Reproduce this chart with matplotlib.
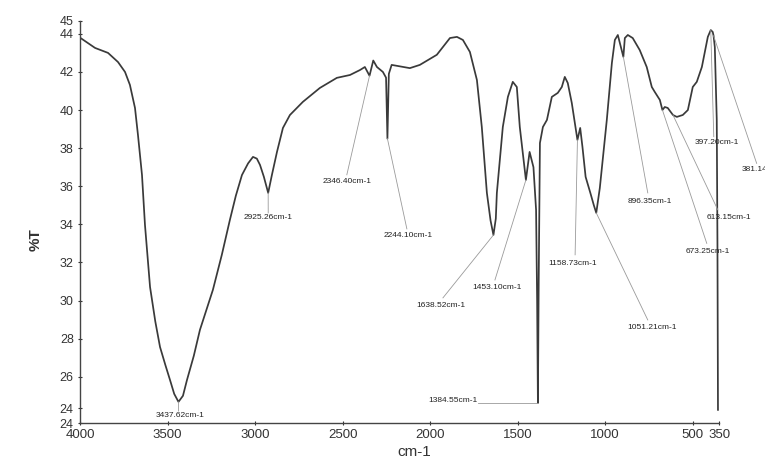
import matplotlib
matplotlib.use("Agg")
import matplotlib.pyplot as plt

# FTIR transmittance spectrum (wavenumber in cm-1, transmittance in %T)
wavenumber = [
    4000, 3914, 3840, 3783, 3743, 3715, 3686, 3669, 3646, 3629, 3600, 3570,
    3543, 3512, 3486, 3462, 3437.62, 3412, 3389, 3350, 3315, 3241, 3190,
    3144, 3110, 3075, 3040, 3012, 2990, 2972, 2950, 2925.26, 2904, 2875,
    2841, 2801, 2727, 2630, 2533, 2458, 2401, 2373, 2346.40, 2325, 2304,
    2270, 2252, 2244.10, 2236, 2220, 2116, 2059, 1962, 1887, 1847, 1813,
    1773, 1733, 1705, 1676, 1655, 1638.52, 1625, 1619, 1585, 1556, 1528,
    1505, 1488, 1453.10, 1432, 1410, 1395, 1389, 1384.55, 1380, 1373, 1356,
    1333, 1305, 1271, 1248, 1231, 1214, 1191, 1158.73, 1143, 1130, 1112,
    1085, 1065, 1051.21, 1031, 991, 962, 945, 928, 896.35, 888, 871, 843,
    803, 763, 734, 717, 688, 673.25, 660, 643, 613.15, 591, 557, 528, 500,
    477, 448, 431, 414, 397.20, 386, 381.14, 374, 363, 359, 356,
]
transmittance = [
    43.8, 43.26, 43.0, 42.52, 42.0, 41.32, 40.11, 38.69, 36.59, 33.97, 30.71,
    28.9, 27.56, 26.6, 25.83, 25.1, 24.68, 25.0, 25.83, 27.1, 28.46, 30.56,
    32.4, 34.23, 35.5, 36.59, 37.2, 37.54, 37.45, 37.12, 36.5, 35.65, 36.59,
    37.8, 39.06, 39.74, 40.43, 41.16, 41.69, 41.84, 42.1, 42.26, 41.8, 42.6,
    42.26, 42.0, 41.7, 38.5, 41.9, 42.37, 42.2, 42.37, 42.9, 43.78, 43.84,
    43.68, 43.05, 41.58, 39.11, 35.65, 34.2, 33.44, 34.3, 35.65, 39.11,
    40.69, 41.48, 41.21, 39.11, 36.33, 37.8, 37.0, 34.76, 30.0, 24.62, 31.0,
    38.27, 39.11, 39.48, 40.69, 40.9, 41.21, 41.74, 41.42, 40.37, 38.43,
    39.06, 38.06, 36.49, 35.65, 35.0, 34.6, 35.9, 39.48, 42.47, 43.68, 43.94,
    42.79, 43.78, 43.94, 43.78, 43.15, 42.26, 41.21, 40.95, 40.53, 40.0,
    40.16, 40.11, 39.74, 39.64, 39.74, 40.0, 41.21, 41.48, 42.26, 43.05,
    43.84, 44.2, 44.1, 43.9, 43.3, 39.5, 33.0, 24.26,
]

# Picked bands: label position and the bend point of its leader line
peak_labels = ["3437.62cm-1", "2925.26cm-1", "2346.40cm-1", "2244.10cm-1",
               "1638.52cm-1", "1453.10cm-1", "1384.55cm-1", "1158.73cm-1",
               "1051.21cm-1", "896.35cm-1", "673.25cm-1", "613.15cm-1",
               "397.20cm-1", "381.14cm-1"]
peak_wn = [3437.62, 2925.26, 2346.40, 2244.10, 1638.52, 1453.10, 1384.55,
           1158.73, 1051.21, 896.35, 673.25, 613.15, 397.20, 381.14]

label_xy = [(3429, 23.94), (2927, 34.34), (2476, 36.23), (2127, 33.44),
            (1939, 29.72), (1619, 30.71), (1728, 24.73), (1185, 31.97),
            (734, 28.56), (745, 35.18), (414, 32.6), (294, 34.34),
            (363, 38.27), (220, 36.86)]
leader_end = [(3437, 24.2), (2925, 34.6), (2476, 36.6), (2133, 33.76),
              (1927, 30.14), (1630, 31.08), (1728, 24.62), (1172, 32.4),
              (757, 28.98), (757, 35.65), (420, 33.0), (357, 34.76),
              (380, 38.6), (135, 37.2)]
label_ha = ["center"] * 6 + ["right"] + ["center"] * 6 + ["left"]

y_ticks = [23.57, 24.35, 26, 28, 30, 32, 34, 36, 38, 40, 42, 44, 44.69]
y_ticklabels = ["24", "24", "26", "28", "30", "32", "34", "36", "38", "40",
                "42", "44", "45"]
x_ticks = [4000, 3500, 3000, 2500, 2000, 1500, 1000, 500, 350]
x_ticklabels = ["4000", "3500", "3000", "2500", "2000", "1500", "1000",
                "500", "350"]

plt.rcParams["font.family"] = ["Liberation Sans", "DejaVu Sans"]

fig = plt.figure(figsize=(7.65, 4.59), dpi=100)
ax = fig.add_axes([0.1046, 0.0784, 0.8353, 0.8765])

ax.plot(wavenumber, transmittance, color="#3a3a3a", lw=1.25,
        solid_joinstyle="round")

ax.set_xlim(4000, 350)
ax.set_ylim(23.57, 44.69)

# leader lines and band labels
for wn, lab, (tx, ty), (lx, ly), ha in zip(peak_wn, peak_labels, label_xy,
                                             leader_end, label_ha):
    idx = wavenumber.index(wn)
    py = transmittance[idx]
    ax.plot([wn, lx], [py, ly], color="#9a9a9a", lw=0.6, clip_on=False)
    ax.text(tx, ty, lab, fontsize=6, color="#222222", ha=ha, va="center",
            clip_on=False)

for side in ("top", "right"):
    ax.spines[side].set_visible(False)
for side in ("left", "bottom"):
    ax.spines[side].set_color("#444444")
    ax.spines[side].set_linewidth(1.0)

ax.set_xticks(x_ticks)
ax.set_xticklabels(x_ticklabels)
ax.set_yticks(y_ticks)
ax.set_yticklabels(y_ticklabels)
ax.tick_params(axis="both", direction="inout", length=3, width=0.8,
               labelsize=9.5, colors="#333333", pad=3)
ax.tick_params(axis="y", labelsize=9)

fig.text(0.046, 0.477, "%T", rotation=90, fontsize=11, fontweight="bold",
         color="#333333", ha="center", va="center")
fig.text(0.542, 0.015, "cm-1", fontsize=11, color="#333333",
         ha="center", va="center")

fig.savefig("out.png", dpi=100)
